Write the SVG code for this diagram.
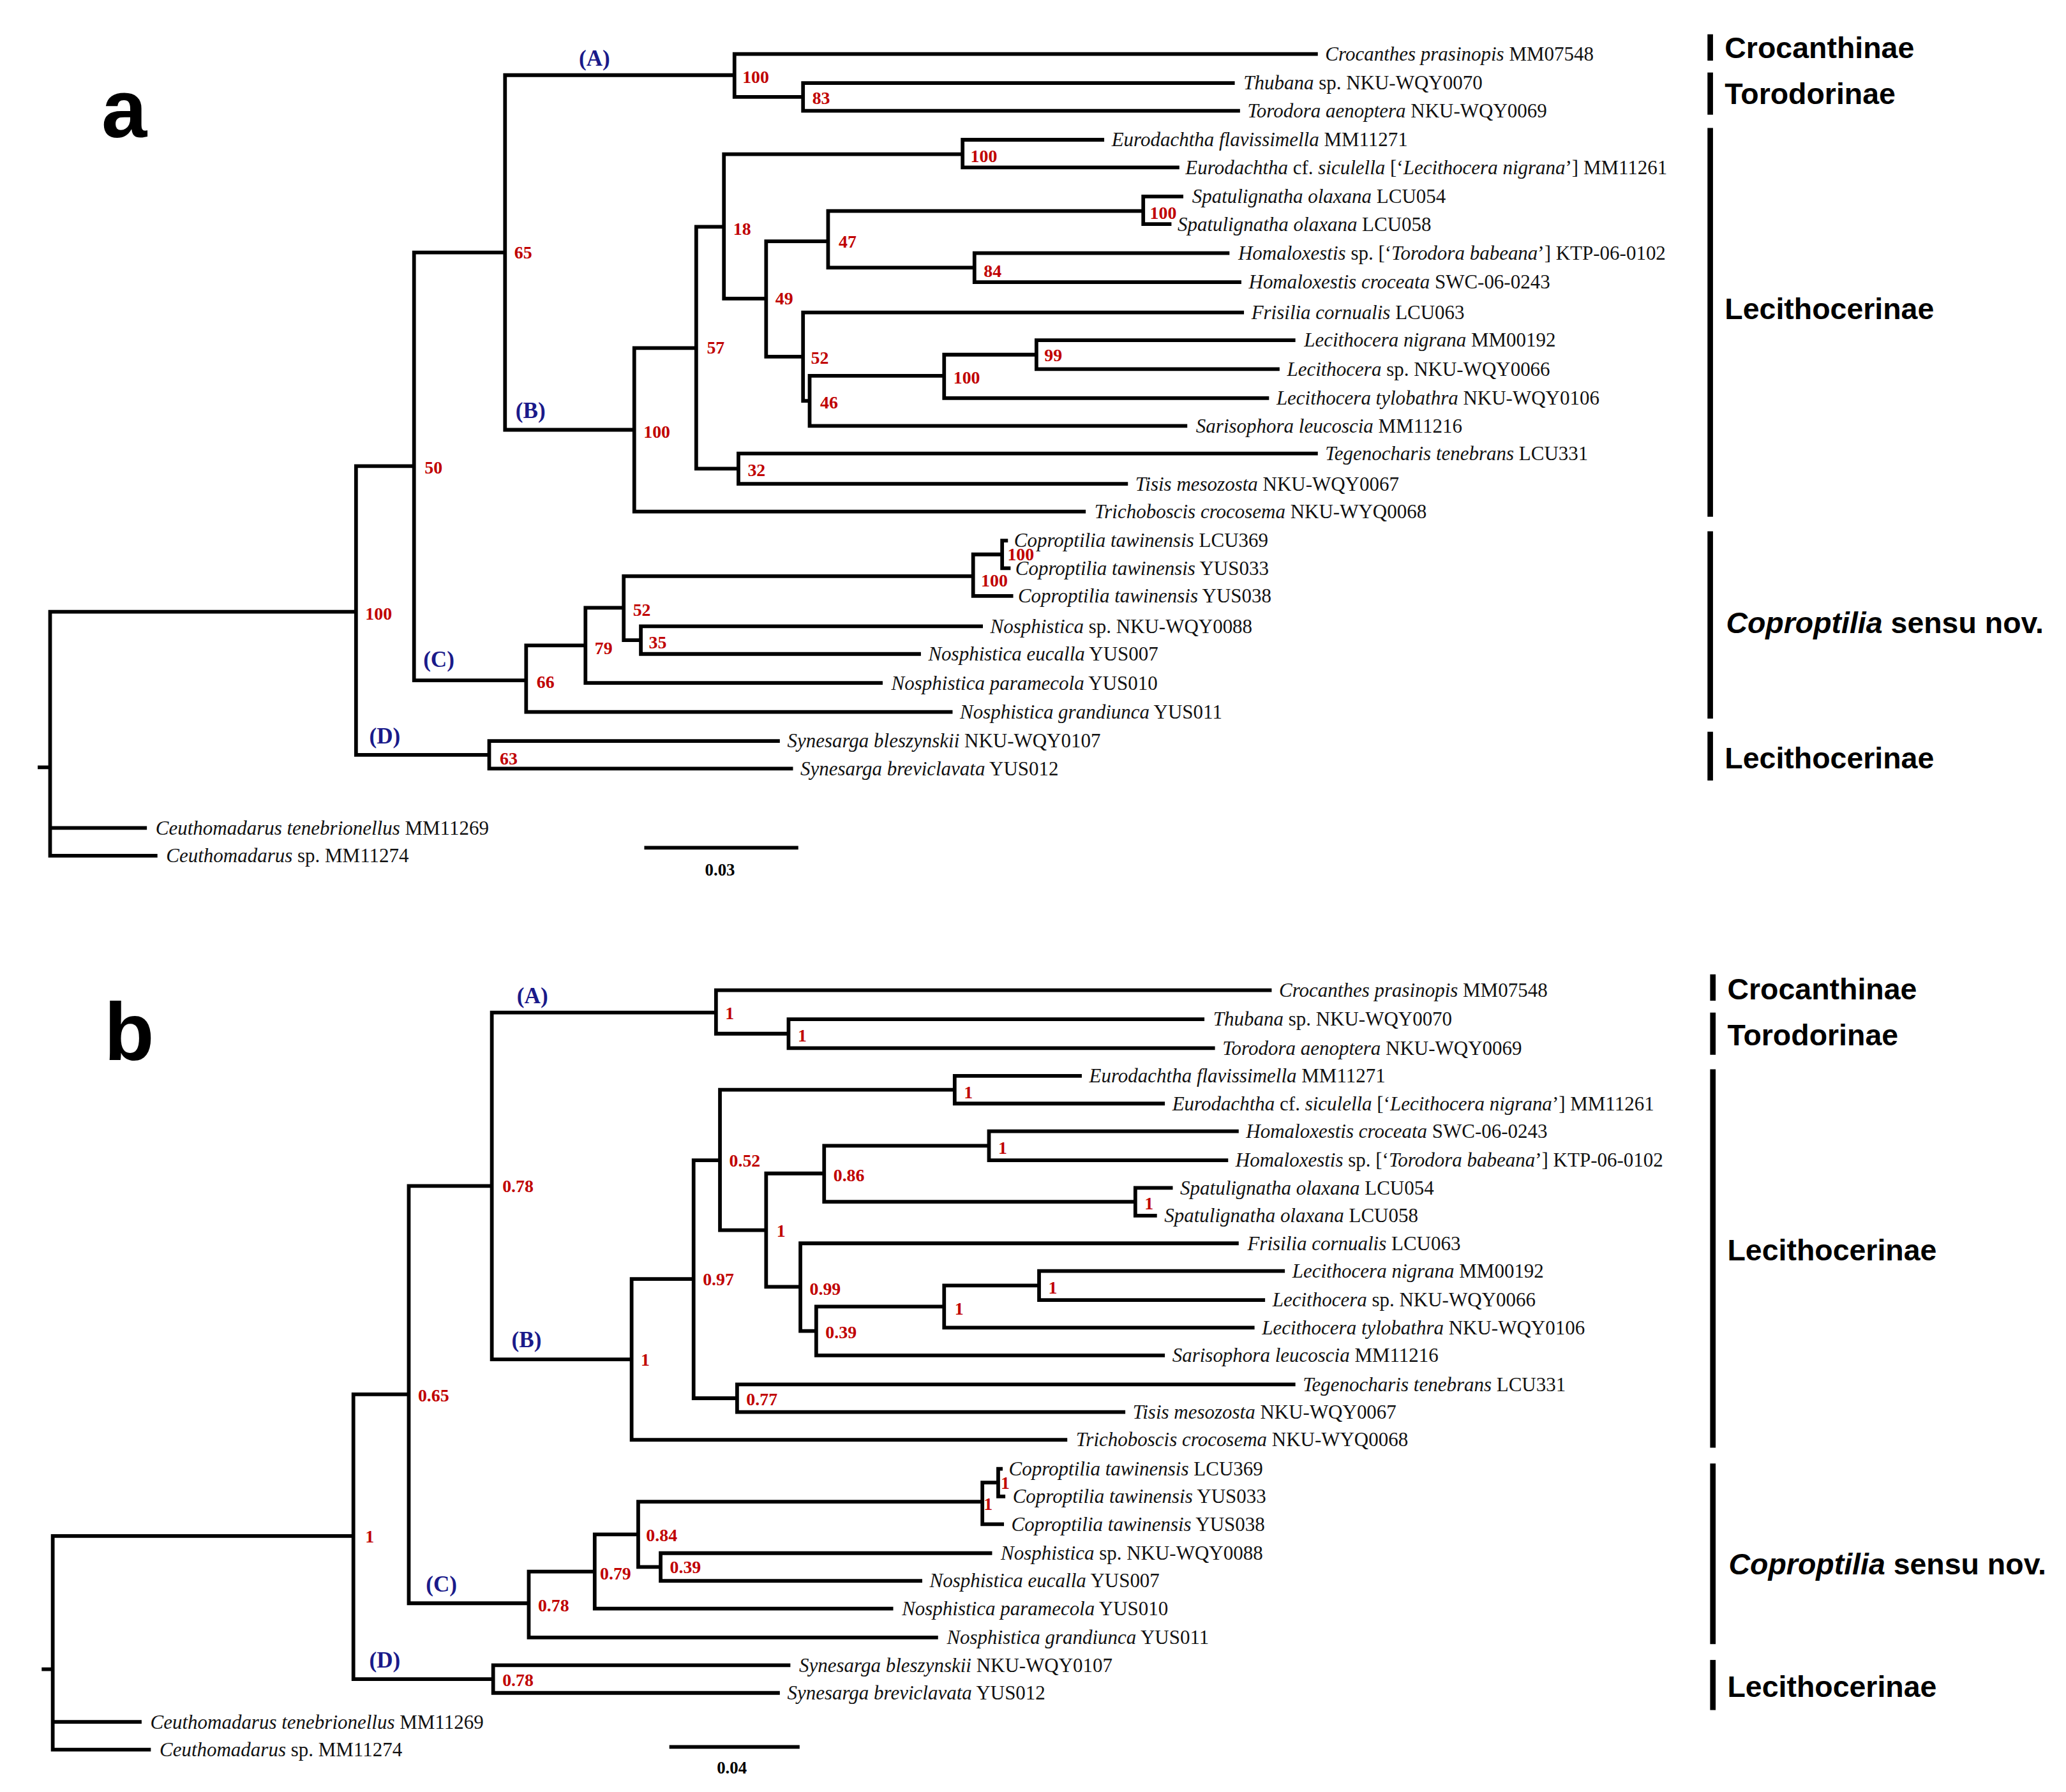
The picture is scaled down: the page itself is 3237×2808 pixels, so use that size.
<svg xmlns="http://www.w3.org/2000/svg" width="3237" height="2808" viewBox="0 0 3237 2808">
<style>
.br{fill:none;stroke:#000;stroke-width:2.8;stroke-linecap:square;stroke-linejoin:miter}
.bar{fill:none;stroke:#000;stroke-width:4.2}
.lf{font-family:"Liberation Serif","Times New Roman",serif;font-size:15px;fill:#111}
.lf .i{font-style:italic}
.sp{font-family:"Liberation Serif","Times New Roman",serif;font-size:13.5px;font-weight:bold;fill:#c00000}
.cl{font-family:"Liberation Serif","Times New Roman",serif;font-size:17px;font-weight:bold;fill:#1a1a8a}
.gp{font-family:"Liberation Sans",Arial,sans-serif;font-size:22.5px;font-weight:bold;fill:#000}
.pl{font-family:"Liberation Sans",Arial,sans-serif;font-size:62px;font-weight:bold;fill:#000}
.sc{font-family:"Liberation Serif","Times New Roman",serif;font-size:13px;font-weight:bold;fill:#000;text-anchor:middle}
</style>
<rect width="3237" height="2808" fill="#fff"/>
<g transform="scale(2.066)">
<!-- ================= PANEL A ================= -->
<g id="panel-a">
<text id="label-a" class="pl" x="77" y="104">a</text>
<g id="connectors-a">
<path class="br" d="M30 582H38M38 464V649M38 628H110M38 649H118M38 464H270
M270 353.5V572.5M270 353.5H314M314 191.5V516M314 191.5H383M383 57V326
M383 57H557M557 41V73.5M557 41H998M557 73.5H609M609 63V84M609 63H935M609 84H939
M383 326H481M481 264V388M481 388H822M481 264H528M528 172V355.5
M528 355.5H560M560 344V367M560 344H998M560 367H854
M528 172H549M549 117V226.5M549 117H730M730 106V127M730 106H836M730 127H893
M549 226.5H581M581 183V270.5M581 183H628M628 160V203
M628 160H867M867 149V170M867 149H896M867 170H887
M628 203H739M739 192V214M739 192H931M739 214H940
M581 270.5H609M609 237V304M609 237H942M609 304H614M614 285V323M614 323H899
M614 285H716M716 269V302M716 302H961M716 269H786M786 258V280M786 258H981M786 280H969
M314 516H399M399 489.5V540M399 540H721M399 489.5H444M444 461V518M444 518H668
M444 461H473M473 437V485.5M473 437H738M738 420.5V452M738 452H767
M738 420.5H760M760 410V431M760 410H763M760 431H765
M473 485.5H486M486 475V496M486 475H744M486 496H697
M270 572.5H371M371 562V583M371 562H590M371 583H600"/>
</g>
<g id="support-a" class="sp">
<text x="563" y="63">100</text>
<text x="616" y="79">83</text>
<text x="736" y="123">100</text>
<text x="872" y="166">100</text>
<text x="636" y="188">47</text>
<text x="746" y="210">84</text>
<text x="556" y="178">18</text>
<text x="588" y="231">49</text>
<text x="615" y="276">52</text>
<text x="792" y="274">99</text>
<text x="723" y="291">100</text>
<text x="622" y="310">46</text>
<text x="536" y="268">57</text>
<text x="567" y="361">32</text>
<text x="488" y="332">100</text>
<text x="390" y="196">65</text>
<text x="322" y="359">50</text>
<text x="277" y="470">100</text>
<text x="764" y="425">100</text>
<text x="744" y="445">100</text>
<text x="480" y="467">52</text>
<text x="492" y="492">35</text>
<text x="451" y="496">79</text>
<text x="407" y="522">66</text>
<text x="379" y="580">63</text>
</g>
<g id="clades-a" class="cl">
<text x="439" y="50">(A)</text>
<text x="391" y="317">(B)</text>
<text x="321" y="506">(C)</text>
<text x="280" y="564">(D)</text>
</g>
<g id="leaves-a" class="lf">
<g id="a-t01"><text x="1005" y="46"><tspan class="i">Crocanthes prasinopis</tspan> MM07548</text></g>
<g id="a-t02"><text x="943" y="68"><tspan class="i">Thubana</tspan> sp. NKU-WQY0070</text></g>
<g id="a-t03"><text x="946" y="89"><tspan class="i">Torodora aenoptera</tspan> NKU-WQY0069</text></g>
<g id="a-t04"><text x="843" y="111"><tspan class="i">Eurodachtha flavissimella</tspan> MM11271</text></g>
<g id="a-t05"><text x="899" y="132"><tspan class="i">Eurodachtha</tspan> cf. <tspan class="i">siculella</tspan> [‘<tspan class="i">Lecithocera nigrana</tspan>’] MM11261</text></g>
<g id="a-t06"><text x="904" y="154"><tspan class="i">Spatulignatha olaxana</tspan> LCU054</text></g>
<g id="a-t07"><text x="893" y="175"><tspan class="i">Spatulignatha olaxana</tspan> LCU058</text></g>
<g id="a-t08"><text x="939" y="197"><tspan class="i">Homaloxestis</tspan> sp. [‘<tspan class="i">Torodora babeana</tspan>’] KTP-06-0102</text></g>
<g id="a-t09"><text x="947" y="219"><tspan class="i">Homaloxestis croceata</tspan> SWC-06-0243</text></g>
<g id="a-t10"><text x="949" y="242"><tspan class="i">Frisilia cornualis</tspan> LCU063</text></g>
<g id="a-t11"><text x="989" y="263"><tspan class="i">Lecithocera nigrana</tspan> MM00192</text></g>
<g id="a-t12"><text x="976" y="285"><tspan class="i">Lecithocera</tspan> sp. NKU-WQY0066</text></g>
<g id="a-t13"><text x="968" y="307"><tspan class="i">Lecithocera tylobathra</tspan> NKU-WQY0106</text></g>
<g id="a-t14"><text x="907" y="328"><tspan class="i">Sarisophora leucoscia</tspan> MM11216</text></g>
<g id="a-t15"><text x="1005" y="349"><tspan class="i">Tegenocharis tenebrans</tspan> LCU331</text></g>
<g id="a-t16"><text x="861" y="372"><tspan class="i">Tisis mesozosta</tspan> NKU-WQY0067</text></g>
<g id="a-t17"><text x="830" y="393"><tspan class="i">Trichoboscis crocosema</tspan> NKU-WYQ0068</text></g>
<g id="a-t18"><text x="769" y="415"><tspan class="i">Coproptilia tawinensis</tspan> LCU369</text></g>
<g id="a-t19"><text x="770" y="436"><tspan class="i">Coproptilia tawinensis</tspan> YUS033</text></g>
<g id="a-t20"><text x="772" y="457"><tspan class="i">Coproptilia tawinensis</tspan> YUS038</text></g>
<g id="a-t21"><text x="751" y="480"><tspan class="i">Nosphistica</tspan> sp. NKU-WQY0088</text></g>
<g id="a-t22"><text x="704" y="501"><tspan class="i">Nosphistica eucalla</tspan> YUS007</text></g>
<g id="a-t23"><text x="676" y="523"><tspan class="i">Nosphistica paramecola</tspan> YUS010</text></g>
<g id="a-t24"><text x="728" y="545"><tspan class="i">Nosphistica grandiunca</tspan> YUS011</text></g>
<g id="a-t25"><text x="597" y="567"><tspan class="i">Synesarga bleszynskii</tspan> NKU-WQY0107</text></g>
<g id="a-t26"><text x="607" y="588"><tspan class="i">Synesarga breviclavata</tspan> YUS012</text></g>
<g id="a-t27"><text x="118" y="633"><tspan class="i">Ceuthomadarus tenebrionellus</tspan> MM11269</text></g>
<g id="a-t28"><text x="126" y="654"><tspan class="i">Ceuthomadarus</tspan> sp. MM11274</text></g>
</g>
<g id="scale-a">
<path class="br" d="M490 643H604"/>
<text class="sc" x="546" y="664">0.03</text>
</g>
<g id="groups-a">
<g id="a-g1"><path class="bar" d="M1297 26V46"/><text class="gp" x="1308" y="44">Crocanthinae</text></g>
<g id="a-g2"><path class="bar" d="M1297 55V87"/><text class="gp" x="1308" y="79">Torodorinae</text></g>
<g id="a-g3"><path class="bar" d="M1297 97V392"/><text class="gp" x="1308" y="242">Lecithocerinae</text></g>
<g id="a-g4"><path class="bar" d="M1297 403V545"/><text class="gp" x="1309" y="480"><tspan font-style="italic">Coproptilia</tspan> sensu nov.</text></g>
<g id="a-g5"><path class="bar" d="M1297 555V592"/><text class="gp" x="1308" y="583">Lecithocerinae</text></g>
</g>
</g>
<!-- ================= PANEL B ================= -->
<g id="panel-b">
<text id="label-b" class="pl" x="79" y="804">b</text>
<g id="connectors-b">
<path class="br" d="M33 1266H40M40 1165V1327M40 1306H106M40 1327H113M40 1165H268
M268 1057.5V1273.5M268 1057.5H310M310 899.5V1216M310 899.5H373M373 768V1031
M373 768H543M543 751V784M543 751H963M543 784H598M598 773V795M598 773H912M598 795H920
M373 1031H479M479 970V1092M479 1092H808M479 970H526M526 880V1060.5
M526 1060.5H559M559 1050V1071M559 1050H981M559 1071H852
M526 880H546M546 826.5V933M546 826.5H724M724 816V837M724 816H819M724 837H882
M546 933H581M581 890V976M581 890H625M625 869V911.5
M625 869H750M750 858V880M750 858H938M750 880H930
M625 911.5H861M861 901V922M861 901H888M861 922H876
M581 976H607M607 943V1009.5M607 943H938M607 1009.5H619M619 991V1028M619 1028H882
M619 991H716M716 975V1007M716 1007H950M716 975H788M788 964V986M788 964H973M788 986H958
M310 1216H401M401 1192V1242M401 1242H710M401 1192H451M451 1163.75V1220M451 1220H676
M451 1163.75H484M484 1139V1188.5M484 1139H745M745 1124.5V1156M745 1156H760
M745 1124.5H757M757 1114V1135M757 1114H759M757 1135H761
M484 1188.5H501M501 1178V1199M501 1178H751M501 1199H698
M268 1273.5H374M374 1263V1284M374 1263H598M374 1284H590"/>
</g>
<g id="support-b" class="sp">
<text x="550" y="773">1</text>
<text x="605" y="790">1</text>
<text x="381" y="904">0.78</text>
<text x="486" y="1036">1</text>
<text x="533" y="975">0.97</text>
<text x="566" y="1066">0.77</text>
<text x="553" y="885">0.52</text>
<text x="731" y="833">1</text>
<text x="589" y="938">1</text>
<text x="632" y="896">0.86</text>
<text x="757" y="875">1</text>
<text x="868" y="917">1</text>
<text x="614" y="982">0.99</text>
<text x="626" y="1015">0.39</text>
<text x="724" y="997">1</text>
<text x="795" y="981">1</text>
<text x="317" y="1063">0.65</text>
<text x="408" y="1222">0.78</text>
<text x="455" y="1198">0.79</text>
<text x="490" y="1169">0.84</text>
<text x="508" y="1193">0.39</text>
<text x="746" y="1145">1</text>
<text x="759" y="1129">1</text>
<text x="277" y="1170">1</text>
<text x="381" y="1279">0.78</text>
</g>
<g id="clades-b" class="cl">
<text x="392" y="761">(A)</text>
<text x="388" y="1022">(B)</text>
<text x="323" y="1207">(C)</text>
<text x="280" y="1265">(D)</text>
</g>
<g id="leaves-b" class="lf">
<g id="b-t01"><text x="970" y="756"><tspan class="i">Crocanthes prasinopis</tspan> MM07548</text></g>
<g id="b-t02"><text x="920" y="778"><tspan class="i">Thubana</tspan> sp. NKU-WQY0070</text></g>
<g id="b-t03"><text x="927" y="800"><tspan class="i">Torodora aenoptera</tspan> NKU-WQY0069</text></g>
<g id="b-t04"><text x="826" y="821"><tspan class="i">Eurodachtha flavissimella</tspan> MM11271</text></g>
<g id="b-t05"><text x="889" y="842"><tspan class="i">Eurodachtha</tspan> cf. <tspan class="i">siculella</tspan> [‘<tspan class="i">Lecithocera nigrana</tspan>’] MM11261</text></g>
<g id="b-t06"><text x="945" y="863"><tspan class="i">Homaloxestis croceata</tspan> SWC-06-0243</text></g>
<g id="b-t07"><text x="937" y="885"><tspan class="i">Homaloxestis</tspan> sp. [‘<tspan class="i">Torodora babeana</tspan>’] KTP-06-0102</text></g>
<g id="b-t08"><text x="895" y="906"><tspan class="i">Spatulignatha olaxana</tspan> LCU054</text></g>
<g id="b-t09"><text x="883" y="927"><tspan class="i">Spatulignatha olaxana</tspan> LCU058</text></g>
<g id="b-t10"><text x="946" y="948"><tspan class="i">Frisilia cornualis</tspan> LCU063</text></g>
<g id="b-t11"><text x="980" y="969"><tspan class="i">Lecithocera nigrana</tspan> MM00192</text></g>
<g id="b-t12"><text x="965" y="991"><tspan class="i">Lecithocera</tspan> sp. NKU-WQY0066</text></g>
<g id="b-t13"><text x="957" y="1012"><tspan class="i">Lecithocera tylobathra</tspan> NKU-WQY0106</text></g>
<g id="b-t14"><text x="889" y="1033"><tspan class="i">Sarisophora leucoscia</tspan> MM11216</text></g>
<g id="b-t15"><text x="988" y="1055"><tspan class="i">Tegenocharis tenebrans</tspan> LCU331</text></g>
<g id="b-t16"><text x="859" y="1076"><tspan class="i">Tisis mesozosta</tspan> NKU-WQY0067</text></g>
<g id="b-t17"><text x="816" y="1097"><tspan class="i">Trichoboscis crocosema</tspan> NKU-WYQ0068</text></g>
<g id="b-t18"><text x="765" y="1119"><tspan class="i">Coproptilia tawinensis</tspan> LCU369</text></g>
<g id="b-t19"><text x="768" y="1140"><tspan class="i">Coproptilia tawinensis</tspan> YUS033</text></g>
<g id="b-t20"><text x="767" y="1161"><tspan class="i">Coproptilia tawinensis</tspan> YUS038</text></g>
<g id="b-t21"><text x="759" y="1183"><tspan class="i">Nosphistica</tspan> sp. NKU-WQY0088</text></g>
<g id="b-t22"><text x="705" y="1204"><tspan class="i">Nosphistica eucalla</tspan> YUS007</text></g>
<g id="b-t23"><text x="684" y="1225"><tspan class="i">Nosphistica paramecola</tspan> YUS010</text></g>
<g id="b-t24"><text x="718" y="1247"><tspan class="i">Nosphistica grandiunca</tspan> YUS011</text></g>
<g id="b-t25"><text x="606" y="1268"><tspan class="i">Synesarga bleszynskii</tspan> NKU-WQY0107</text></g>
<g id="b-t26"><text x="597" y="1289"><tspan class="i">Synesarga breviclavata</tspan> YUS012</text></g>
<g id="b-t27"><text x="114" y="1311"><tspan class="i">Ceuthomadarus tenebrionellus</tspan> MM11269</text></g>
<g id="b-t28"><text x="121" y="1332"><tspan class="i">Ceuthomadarus</tspan> sp. MM11274</text></g>
</g>
<g id="scale-b">
<path class="br" d="M509 1325H605"/>
<text class="sc" x="555" y="1345">0.04</text>
</g>
<g id="groups-b">
<g id="b-g1"><path class="bar" d="M1299 739V759"/><text class="gp" x="1310" y="758">Crocanthinae</text></g>
<g id="b-g2"><path class="bar" d="M1299 768V800"/><text class="gp" x="1310" y="793">Torodorinae</text></g>
<g id="b-g3"><path class="bar" d="M1299 811V1098"/><text class="gp" x="1310" y="956">Lecithocerinae</text></g>
<g id="b-g4"><path class="bar" d="M1299 1110V1247"/><text class="gp" x="1311" y="1194"><tspan font-style="italic">Coproptilia</tspan> sensu nov.</text></g>
<g id="b-g5"><path class="bar" d="M1299 1259V1297"/><text class="gp" x="1310" y="1287">Lecithocerinae</text></g>
</g>
</g>
</g>
</svg>
